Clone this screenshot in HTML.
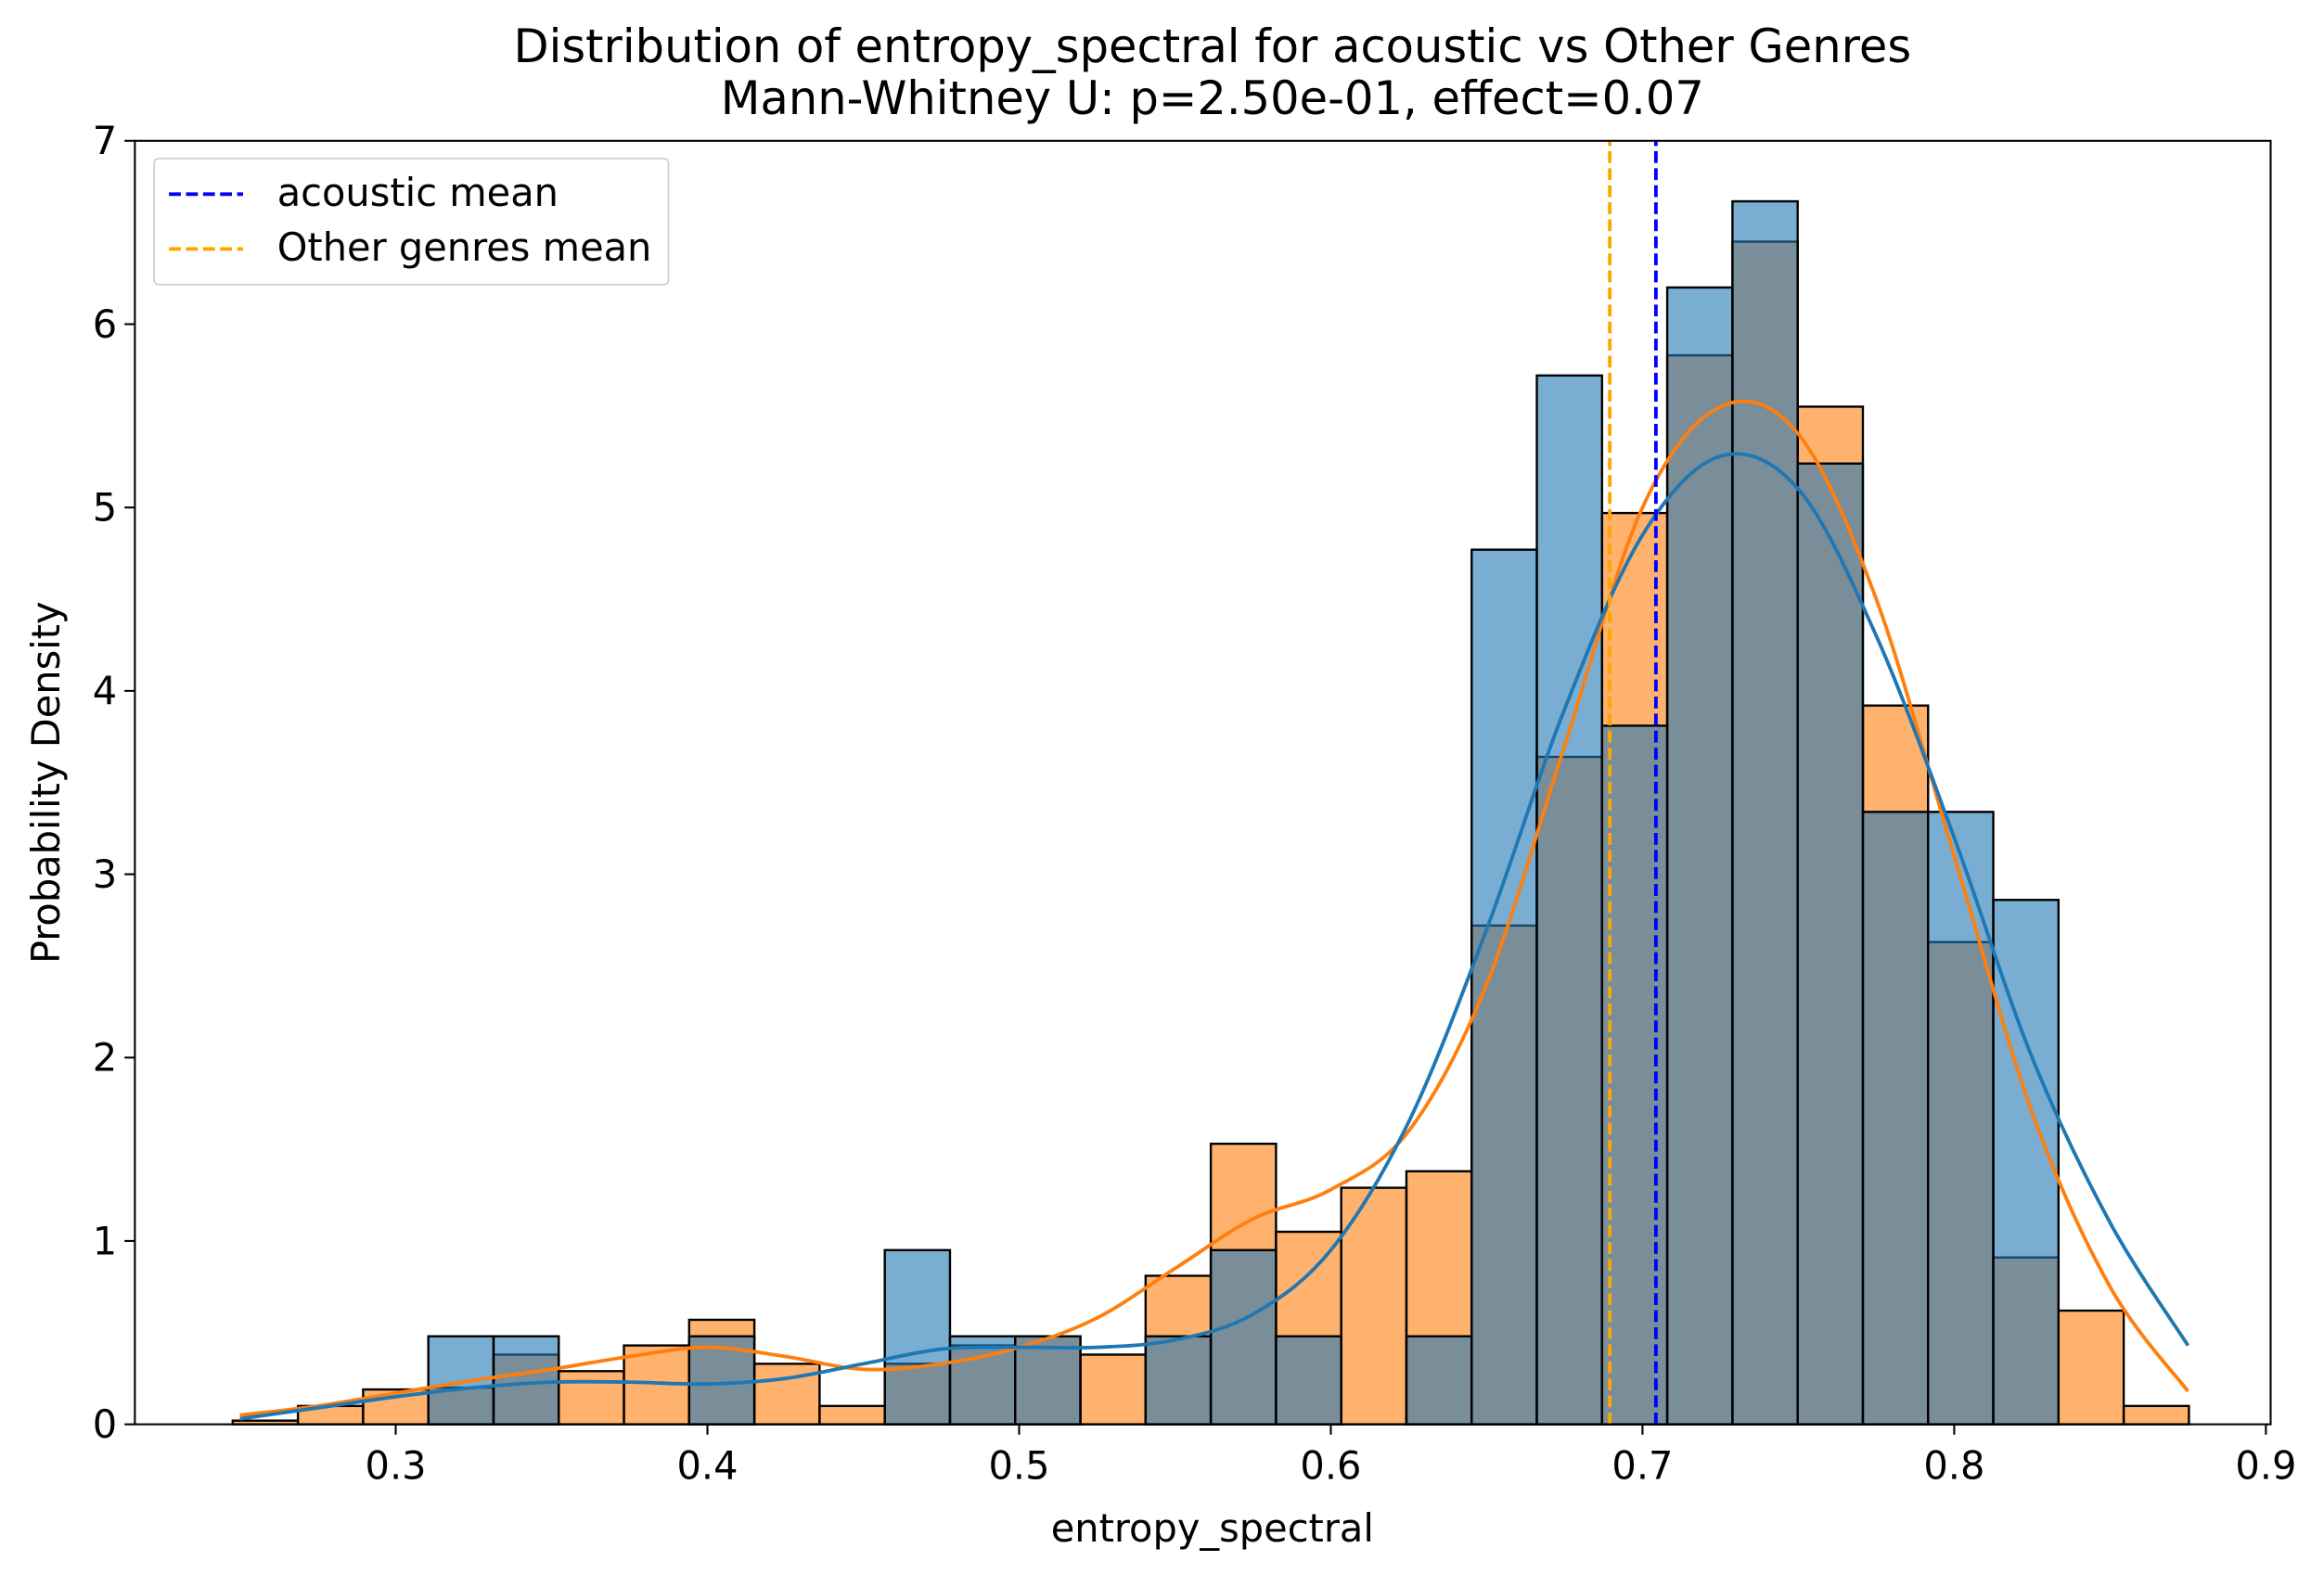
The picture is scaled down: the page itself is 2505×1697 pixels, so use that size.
<!DOCTYPE html>
<html><head><meta charset="utf-8"><style>
html,body{margin:0;padding:0;background:#fff}
svg{display:block}
text{font-family:"DejaVu Sans","Liberation Sans",sans-serif;fill:#000}
</style></head><body>
<svg id="chart" width="2505" height="1697" viewBox="0 0 1568 1062" preserveAspectRatio="none" xmlns="http://www.w3.org/2000/svg">
<rect x="0" y="0" width="1568" height="1062" fill="#fff"/>
<text x="818" y="42" font-size="31" text-anchor="middle">Distribution of entropy_spectral for acoustic vs Other Genres</text>
<text x="818" y="77" font-size="31" text-anchor="middle">Mann-Whitney U: p=2.50e-01, effect=0.07</text>
<g id="bars"></g>
<g id="kde"></g>
<g id="means"></g>
<g id="axes"></g>
<text x="818" y="1040" font-size="26" text-anchor="middle">entropy_spectral</text>
<text x="40" y="528" font-size="26" text-anchor="middle" transform="rotate(-90 40 528)">Probability Density</text>
<g>
<rect x="104" y="107" width="347" height="85" rx="3" fill="#fff" fill-opacity="0.8" stroke="#ccc"/>
<line x1="114" y1="131" x2="164" y2="131" stroke="#0000ff" stroke-width="2.4" stroke-dasharray="8,3.5"/>
<text x="187" y="139" font-size="26">acoustic mean</text>
<line x1="114" y1="168" x2="164" y2="168" stroke="#ffa500" stroke-width="2.4" stroke-dasharray="8,3.5"/>
<text x="187" y="176" font-size="26">Other genres mean</text>
</g>
</svg>
<script>
const binStart = 0.2477;
const binWidth = 0.02092;
const otherDensity = [0.02,0.1,0.19,0.2,0.38,0.29,0.43,0.57,0.33,0.1,0.33,0.43,0.48,0.38,0.81,1.53,1.05,1.29,1.38,2.72,3.64,4.97,5.83,6.45,5.55,3.92,2.63,0.91,0.62,0.1];
const acousticDensity = [0,0,0,0.48,0.48,0,0,0.48,0,0,0.95,0.48,0.48,0,0.48,0.95,0.48,0,0.48,4.77,5.72,3.81,6.2,6.67,5.24,3.34,3.34,2.86,0,0];
const kdeX = [0.25,0.275,0.3,0.325,0.35,0.375,0.4,0.425,0.45,0.475,0.5,0.525,0.55,0.575,0.6,0.625,0.65,0.675,0.7,0.725,0.75,0.775,0.8,0.825,0.85,0.875];
const acousticKde = [0.03,0.09,0.15,0.2,0.23,0.23,0.22,0.25,0.33,0.41,0.42,0.42,0.46,0.6,0.95,1.65,2.7,3.9,4.85,5.28,5.1,4.3,3.2,2.0,1.1,0.43];
const otherKde = [0.05,0.1,0.17,0.24,0.3,0.37,0.42,0.37,0.3,0.33,0.42,0.58,0.85,1.12,1.28,1.6,2.4,3.7,5.0,5.55,5.4,4.5,3.1,1.7,0.75,0.18];
const acousticMean = 0.7043;
const otherMean = 0.6895;
const xTicks = [0.3,0.4,0.5,0.6,0.7,0.8,0.9];
const yTicks = [0,1,2,3,4,5,6,7];

const NS = "http://www.w3.org/2000/svg";
const X0 = 91, X1 = 1532, Y0 = 961, Y1 = 95;
function sx(v){ return 267 + (v - 0.3) * 2103; }
function sy(v){ return Y0 - v * (Y0 - Y1) / 7; }
function mk(tag, attrs, parent){ const e = document.createElementNS(NS, tag); for (const k in attrs) e.setAttribute(k, attrs[k]); parent.appendChild(e); return e; }

const bars = document.getElementById('bars');
function drawBars(vals, color, name){
  vals.forEach((v, i) => {
    if (v <= 0) return;
    const x0 = sx(binStart + i * binWidth), x1 = sx(binStart + (i + 1) * binWidth);
    const r = mk('rect', {x: x0, y: sy(v), width: x1 - x0, height: sy(0) - sy(v), fill: color, 'fill-opacity': 0.6, stroke: '#000', 'stroke-width': 1.5}, bars);
    
    
  });
}
drawBars(otherDensity, '#ff7f0e', 'other');
drawBars(acousticDensity, '#1f77b4', 'acoustic');

const kde = document.getElementById('kde');
function pathFor(xs, ys){
  const p = xs.map((x, i) => [sx(x), sy(ys[i])]);
  let d = 'M' + p[0][0] + ',' + p[0][1];
  for (let i = 0; i < p.length - 1; i++){
    const a = p[Math.max(0, i - 1)], b = p[i], c = p[i + 1], e = p[Math.min(p.length - 1, i + 2)];
    const c1 = [b[0] + (c[0] - a[0]) / 6, b[1] + (c[1] - a[1]) / 6];
    const c2 = [c[0] - (e[0] - b[0]) / 6, c[1] - (e[1] - b[1]) / 6];
    d += ' C' + c1[0] + ',' + c1[1] + ' ' + c2[0] + ',' + c2[1] + ' ' + c[0] + ',' + c[1];
  }
  return d;
}
const ko = mk('path', {d: pathFor(kdeX, otherKde), fill: 'none', stroke: '#ff7f0e', 'stroke-width': 2.4}, kde);


const ka = mk('path', {d: pathFor(kdeX, acousticKde), fill: 'none', stroke: '#1f77b4', 'stroke-width': 2.4}, kde);



const means = document.getElementById('means');
const mo = mk('line', {x1: sx(otherMean), x2: sx(otherMean), y1: Y0, y2: Y1, stroke: '#ffa500', 'stroke-width': 2.4, 'stroke-dasharray': '8,3.5'}, means);


const ma = mk('line', {x1: sx(acousticMean), x2: sx(acousticMean), y1: Y0, y2: Y1, stroke: '#0000ff', 'stroke-width': 2.4, 'stroke-dasharray': '8,3.5'}, means);



const axes = document.getElementById('axes');
const frame = mk('rect', {x: X0, y: Y1, width: X1 - X0, height: Y0 - Y1, fill: 'none', stroke: '#000', 'stroke-width': 1.3}, axes);


xTicks.forEach(t => {
  const x = sx(t);
  const l = mk('line', {x1: x, x2: x, y1: Y0, y2: Y0 + 7, stroke: '#000', 'stroke-width': 1.3}, axes);
  
  
  const tx = mk('text', {x: x, y: Y0 + 37, 'font-size': 26, 'text-anchor': 'middle'}, axes);
  tx.textContent = t.toFixed(1);
  
  
});
yTicks.forEach(t => {
  const y = sy(t);
  const l = mk('line', {x1: X0 - 7, x2: X0, y1: y, y2: y, stroke: '#000', 'stroke-width': 1.3}, axes);
  
  
  const tx = mk('text', {x: X0 - 12, y: y + 9, 'font-size': 26, 'text-anchor': 'end'}, axes);
  tx.textContent = String(t);
  
  
});
</script>
</body></html>
